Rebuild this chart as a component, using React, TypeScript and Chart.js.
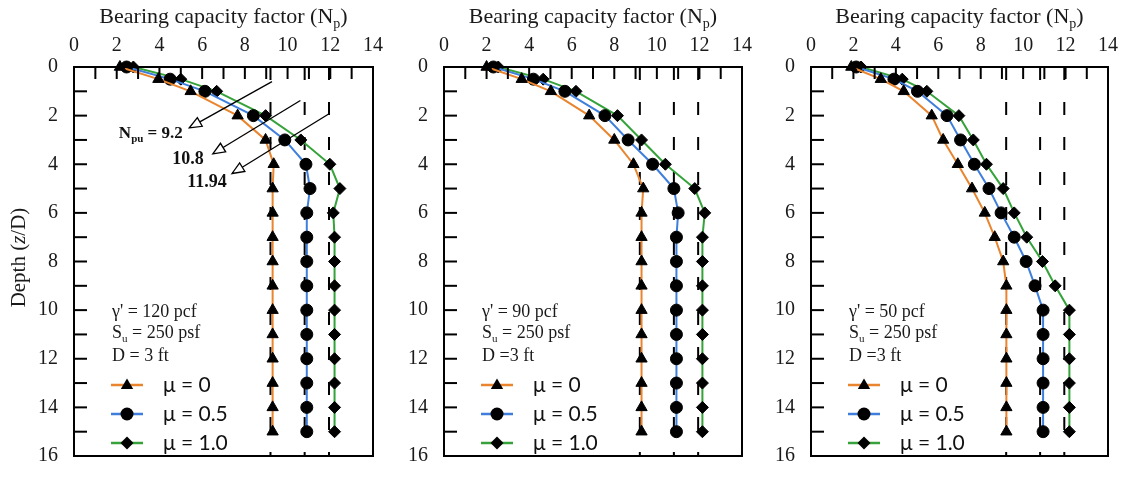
import React, { useEffect, useRef } from "react";
import { Chart, registerables } from "chart.js";
Chart.register(...registerables);

// ---------- data ----------
const depths = [0, 0.5, 1, 2, 3, 4, 5, 6, 7, 8, 9, 10, 11, 12, 13, 14, 15];
const xTickValues = [0, 2, 4, 6, 8, 10, 12, 14];
const yTickValues = [0, 2, 4, 6, 8, 10, 12, 14, 16];

// Panel 1: gamma' = 120 pcf
const p1Mu0 = [2.15, 3.95, 5.46, 7.66, 8.97, 9.35, 9.3, 9.3, 9.3, 9.3, 9.3, 9.3, 9.3, 9.3, 9.3, 9.3, 9.3];
const p1Mu05 = [2.46, 4.5, 6.13, 8.4, 9.87, 10.86, 11.05, 10.9, 10.9, 10.9, 10.9, 10.9, 10.9, 10.9, 10.9, 10.9, 10.9];
const p1Mu1 = [2.78, 5.0, 6.68, 8.97, 10.62, 11.98, 12.45, 12.14, 12.2, 12.2, 12.2, 12.2, 12.2, 12.2, 12.2, 12.2, 12.2];

// Panel 2: gamma' = 90 pcf
const p2Mu0 = [2.0, 3.65, 5.02, 6.82, 8.0, 8.9, 9.36, 9.28, 9.28, 9.28, 9.28, 9.28, 9.28, 9.28, 9.28, 9.28, 9.28];
const p2Mu05 = [2.32, 4.2, 5.68, 7.56, 8.65, 9.8, 10.8, 11.0, 10.92, 10.92, 10.92, 10.92, 10.92, 10.92, 10.92, 10.92, 10.92];
const p2Mu1 = [2.55, 4.66, 6.2, 8.15, 9.28, 10.4, 11.78, 12.25, 12.14, 12.14, 12.14, 12.14, 12.14, 12.14, 12.14, 12.14, 12.14];

// Panel 3: gamma' = 50 pcf
const p3Mu0 = [1.9, 3.29, 4.37, 5.69, 6.23, 6.92, 7.59, 8.19, 8.66, 9.06, 9.21, 9.21, 9.21, 9.21, 9.21, 9.21, 9.21];
const p3Mu05 = [2.13, 3.91, 5.02, 6.41, 7.05, 7.7, 8.39, 8.96, 9.58, 10.14, 10.56, 10.94, 10.94, 10.94, 10.94, 10.94, 10.94];
const p3Mu1 = [2.36, 4.3, 5.46, 6.97, 7.65, 8.27, 9.06, 9.58, 10.17, 10.91, 11.51, 12.18, 12.18, 12.18, 12.18, 12.18, 12.18];

const limitValues = [9.2, 10.8, 11.94];
const limitLabels = ["9.2", "10.8", "11.94"];
const seriesLabels = ["μ = 0", "μ = 0.5", "μ = 1.0"];
const seriesColors = ["#E9842F", "#3F7FDB", "#35A23A"];
const seriesMarkers = ["triangle", "circle", "rectRot"];
const gammaTexts = ["γ' = 120 pcf", "γ' = 90 pcf", "γ' = 50 pcf"];
const suTexts = [" = 250 psf", " = 250 psf", " = 250 psf"];
const dTexts = ["D = 3 ft", "D =3 ft", "D =3 ft"];

// arrow annotation (panel 1), in data units: [fromX, fromDepth, toX, toDepth, labelX, labelDepth]
const arrowSpecs = [
  [9.27, 0.6, 5.4, 2.5, 2.1, 2.76],
  [10.6, 1.38, 6.5, 3.57, 4.6, 3.8],
  [11.98, 1.9, 7.4, 4.38, 5.3, 4.74],
];

const SERIF = "'Liberation Serif', 'Times New Roman', serif";
const SANS = "Lato, 'Liberation Sans', sans-serif";

type Part = { t: string; sub?: boolean; italic?: boolean };

function drawParts(ctx: CanvasRenderingContext2D, parts: Part[], x: number, y: number, size: number, family: string, align: "left" | "center", weight = "") {
  const fontFor = (p: Part) => `${p.italic ? "italic " : ""}${weight ? weight + " " : ""}${p.sub ? Math.round(size * 0.62) : size}px ${family}`;
  let total = 0;
  for (const p of parts) {
    ctx.font = fontFor(p);
    total += ctx.measureText(p.t).width;
  }
  let cx = align === "center" ? x - total / 2 : x;
  ctx.textAlign = "left";
  ctx.textBaseline = "middle";
  for (const p of parts) {
    ctx.font = fontFor(p);
    ctx.fillText(p.t, cx, p.sub ? y + size * 0.32 : y);
    cx += ctx.measureText(p.t).width;
  }
}

function drawMarker(ctx: CanvasRenderingContext2D, kind: string, x: number, y: number, r: number) {
  ctx.beginPath();
  if (kind === "triangle") {
    ctx.moveTo(x, y - r);
    ctx.lineTo(x + r * 0.95, y + r * 0.6);
    ctx.lineTo(x - r * 0.95, y + r * 0.6);
    ctx.closePath();
  } else if (kind === "circle") {
    ctx.arc(x, y, r, 0, Math.PI * 2);
  } else {
    ctx.moveTo(x, y - r);
    ctx.lineTo(x + r, y);
    ctx.lineTo(x, y + r);
    ctx.lineTo(x - r, y);
    ctx.closePath();
  }
  ctx.fillStyle = "#000";
  ctx.fill();
}

type PanelProps = {
  idx: number;
  left: number;
  width: number;
  plotLeft: number;
  plotRight: number;
  series: number[][];
  depthTitle: boolean;
  arrows: boolean;
};

function Panel(props: PanelProps) {
  const ref = useRef<HTMLCanvasElement | null>(null);
  useEffect(() => {
    const canvas = ref.current;
    if (!canvas) return;
    const { idx, left, width, plotLeft, plotRight, series, depthTitle, arrows } = props;
    const H = 484;
    const plotTop = 67;
    const plotBottom = 473;

    const datasets: any[] = series.map((vals, i) => ({
      label: seriesLabels[i],
      data: vals.map((v, k) => ({ x: v, y: depths[k] })),
      showLine: true,
      borderColor: seriesColors[i],
      borderWidth: 2,
      pointStyle: seriesMarkers[i],
      pointRadius: i === 0 ? 6.5 : 6,
      pointBackgroundColor: "#000",
      pointBorderColor: "#000",
      pointBorderWidth: 1,
      clip: false,
      order: 1,
    }));
    limitValues.forEach((v) => {
      datasets.push({
        label: "limit",
        data: [
          { x: v, y: 0 },
          { x: v, y: 16 },
        ],
        showLine: true,
        borderColor: "#000",
        borderWidth: 2,
        borderDash: [13, 22],
        pointRadius: 0,
        clip: false,
        order: 10,
      });
    });

    const decor = {
      id: "decor" + idx,
      afterDraw(chart: any) {
        const ctx: CanvasRenderingContext2D = chart.ctx;
        const ca = chart.chartArea;
        const xs = chart.scales.x;
        const ys = chart.scales.y;
        ctx.save();
        ctx.strokeStyle = "#000";
        ctx.fillStyle = "#000";
        // frame
        ctx.lineWidth = 2;
        ctx.strokeRect(ca.left, ca.top, ca.right - ca.left, ca.bottom - ca.top);
        // inner ticks
        ctx.lineWidth = 2;
        for (let d = 0; d <= 16; d++) {
          const py = ys.getPixelForValue(d);
          ctx.beginPath();
          ctx.moveTo(ca.left, py);
          ctx.lineTo(ca.left + 13, py);
          ctx.stroke();
        }
        for (let v = 0; v <= 14; v++) {
          const px = xs.getPixelForValue(v);
          ctx.beginPath();
          ctx.moveTo(px, ca.top);
          ctx.lineTo(px, ca.top + 12);
          ctx.stroke();
        }
        // top title
        ctx.fillStyle = "#1a1a1a";
        drawParts(ctx, [{ t: "Bearing capacity factor (N" }, { t: "p", sub: true }, { t: ")" }], (ca.left + ca.right) / 2, 17, 22, SERIF, "center");
        // depth title
        if (depthTitle) {
          ctx.save();
          ctx.translate(19, (ca.top + ca.bottom) / 2 - 4);
          ctx.rotate(-Math.PI / 2);
          drawParts(ctx, [{ t: "Depth (" }, { t: "z", italic: true }, { t: "/D)" }], 0, 0, 21, SERIF, "center");
          ctx.restore();
        }
        // parameter text
        const tx = ca.left + 38;
        ctx.fillStyle = "#1a1a1a";
        drawParts(ctx, [{ t: gammaTexts[idx] }], tx, 312, 18, SERIF, "left");
        drawParts(ctx, [{ t: "S" }, { t: "u", sub: true }, { t: suTexts[idx] }], tx, 333, 18, SERIF, "left");
        drawParts(ctx, [{ t: dTexts[idx] }], tx, 356, 18, SERIF, "left");
        // legend
        const rows = [385, 414, 443];
        rows.forEach((ry, i) => {
          ctx.strokeStyle = seriesColors[i];
          ctx.lineWidth = 2.5;
          ctx.beginPath();
          ctx.moveTo(ca.left + 37, ry);
          ctx.lineTo(ca.left + 69, ry);
          ctx.stroke();
          drawMarker(ctx, seriesMarkers[i], ca.left + 53, ry, 6.5);
          ctx.fillStyle = "#111";
          drawParts(ctx, [{ t: seriesLabels[i] }], ca.left + 89, ry, 21, SANS, "left");
        });
        // arrows
        if (arrows) {
          ctx.strokeStyle = "#000";
          ctx.fillStyle = "#000";
          arrowSpecs.forEach((a, i) => {
            const x1 = xs.getPixelForValue(a[0]);
            const y1 = ys.getPixelForValue(a[1]);
            const x2 = xs.getPixelForValue(a[2]);
            const y2 = ys.getPixelForValue(a[3]);
            const ang = Math.atan2(y2 - y1, x2 - x1);
            const hl = 12;
            const hw = 5;
            const bx = x2 - hl * Math.cos(ang);
            const by = y2 - hl * Math.sin(ang);
            ctx.lineWidth = 1.3;
            ctx.beginPath();
            ctx.moveTo(x1, y1);
            ctx.lineTo(bx, by);
            ctx.stroke();
            ctx.beginPath();
            ctx.moveTo(x2, y2);
            ctx.lineTo(bx + hw * Math.sin(ang), by - hw * Math.cos(ang));
            ctx.lineTo(bx - hw * Math.sin(ang), by + hw * Math.cos(ang));
            ctx.closePath();
            ctx.fillStyle = "#fff";
            ctx.fill();
            ctx.stroke();
            ctx.fillStyle = "#111";
            const lx = xs.getPixelForValue(a[4]);
            const ly = ys.getPixelForValue(a[5]);
            if (i === 0) {
              drawParts(ctx, [{ t: "N" }, { t: "pu", sub: true }, { t: " = " + limitLabels[i] }], lx, ly, 17, SERIF, "left", "bold");
            } else {
              drawParts(ctx, [{ t: limitLabels[i] }], lx, ly, 18, SERIF, "left", "bold");
            }
          });
        }
        ctx.restore();
      },
    };

    const tickFont = { family: SERIF, size: 20 };
    const chart = new Chart(canvas, {
      type: "scatter",
      data: { datasets },
      options: {
        responsive: false,
        animation: false,
        devicePixelRatio: 1,
        events: [],
        layout: { padding: { top: 0, left: 0, right: left + width - plotRight, bottom: H - plotBottom } },
        plugins: { legend: { display: false }, tooltip: { enabled: false } },
        scales: {
          x: {
            type: "linear",
            position: "top",
            min: 0,
            max: 14,
            afterBuildTicks: (s: any) => {
              s.ticks = xTickValues.map((v) => ({ value: v }));
            },
            grid: { display: false, drawTicks: false },
            border: { display: false },
            ticks: { autoSkip: false, maxRotation: 0, padding: 9, color: "#1a1a1a", font: tickFont },
            afterFit: (s: any) => {
              s.height = plotTop;
            },
          },
          y: {
            type: "linear",
            position: "left",
            reverse: true,
            min: 0,
            max: 16,
            afterBuildTicks: (s: any) => {
              s.ticks = yTickValues.map((v) => ({ value: v }));
            },
            grid: { display: false, drawTicks: false },
            border: { display: false },
            ticks: { autoSkip: false, padding: 16, color: "#1a1a1a", font: tickFont },
            afterFit: (s: any) => {
              s.width = plotLeft - left;
            },
          },
        },
      } as any,
      plugins: [decor],
    });
    return () => chart.destroy();
  }, []);
  return (
    <canvas
      ref={ref}
      width={props.width}
      height={484}
      style={{ position: "absolute", left: props.left, top: 0, width: props.width, height: 484 }}
    />
  );
}

export default function App() {
  return (
    <div style={{ position: "absolute", left: 0, top: 0, width: 1127, height: 484, background: "#fff", overflow: "hidden" }}>
      <Panel idx={0} left={0} width={395} plotLeft={74} plotRight={373} series={[p1Mu0, p1Mu05, p1Mu1]} depthTitle={true} arrows={true} />
      <Panel idx={1} left={380} width={385} plotLeft={444} plotRight={742} series={[p2Mu0, p2Mu05, p2Mu1]} depthTitle={false} arrows={false} />
      <Panel idx={2} left={745} width={382} plotLeft={811} plotRight={1113} series={[p3Mu0, p3Mu05, p3Mu1]} depthTitle={false} arrows={false} />
    </div>
  );
}
